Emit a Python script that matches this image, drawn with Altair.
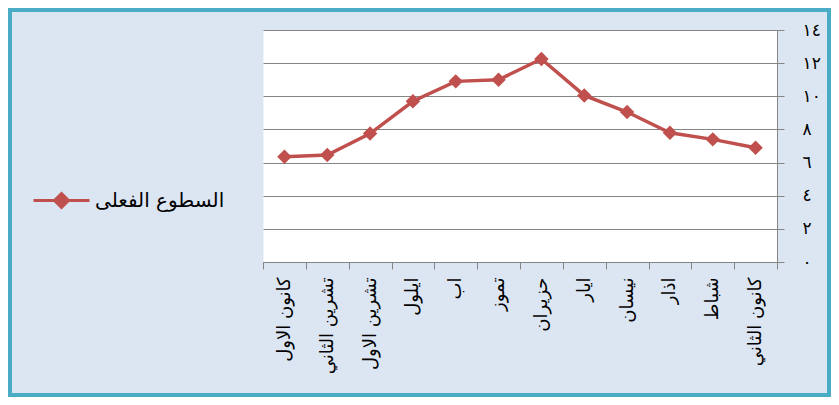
import altair as alt
import pandas as pd

months = ["كانون الاول", "تشرين الثاني", "تشرين الاول", "ايلول", "اب", "تموز",
          "حزيران", "ايار", "نيسان", "اذار", "شباط", "كانون الثاني"]
sunshine = [6.35, 6.45, 7.75, 9.7, 10.9, 11.0, 12.25, 10.05, 9.05, 7.8, 7.4, 6.9]
series_name = "السطوع الفعلى"
y_ticks = [0, 2, 4, 6, 8, 10, 12, 14]
y_tick_labels = ["٠", "٢", "٤", "٦", "٨", "١٠", "١٢", "١٤"]

df = pd.DataFrame({"month": months, "value": sunshine,
                   "series": [series_name] * len(months)})

label_expr = ("[" + ",".join(f"'{l}'" for l in y_tick_labels) + "][indexof(["
              + ",".join(str(v) for v in y_ticks) + "], datum.value)]")

RED = "#c0504d"
GRID = "#858585"
FONT = "DejaVu Sans"

x_enc = alt.X("month:N", sort=months,
              scale=alt.Scale(type="band", paddingInner=0, paddingOuter=0),
              axis=alt.Axis(title=None, labelAngle=270, tickBand="extent",
                            domainColor=GRID, tickColor=GRID, tickSize=7,
                            labelPadding=8, labelFontSize=18, labelFont=FONT,
                            labelColor="black", grid=False))
y_enc = alt.Y("value:Q",
              scale=alt.Scale(domain=[0, 14], nice=False),
              axis=alt.Axis(title=None, orient="right", values=y_ticks,
                            labelExpr=label_expr, grid=True, gridColor=GRID,
                            domainColor=GRID, tickColor=GRID, tickSize=7,
                            labelPadding=18, labelFontSize=17, labelFont=FONT,
                            labelColor="black"))

legend = alt.Legend(orient="none", legendX=-231, legendY=141, title=None,
                    symbolType="M-1,0L1,0M0,-0.25L0.25,0L0,0.25L-0.25,0Z",
                    symbolSize=3136, symbolStrokeWidth=3,
                    symbolFillColor=RED, symbolStrokeColor=RED,
                    labelFontSize=20, labelFont=FONT, labelOffset=4,
                    labelColor="black", labelLimit=0)

base = alt.Chart(df)
line = base.mark_line(strokeWidth=3.5).encode(
    x=x_enc, y=y_enc,
    color=alt.Color("series:N", scale=alt.Scale(range=[RED]), legend=legend))
points = base.mark_point(shape="diamond", size=210, filled=True, opacity=1).encode(
    x=x_enc, y=y_enc,
    color=alt.Color("series:N", scale=alt.Scale(range=[RED]), legend=None))

frame = alt.Chart(pd.DataFrame({"f": [0]})).mark_rect(
    fill="transparent", stroke="#4bacc6", strokeWidth=4).encode(
    x=alt.value(-253), x2=alt.value(566), y=alt.value(-20), y2=alt.value(365))

chart = alt.layer(frame, line, points).properties(
    width=514, height=232,
    autosize=alt.AutoSizeParams(type="none"),
    padding={"left": 255, "top": 22, "right": 54, "bottom": 135},
    background="#dce6f2",
).configure_view(stroke="transparent", fill="white")

chart.save("out.html", embed_options={"renderer": "svg", "actions": False})
